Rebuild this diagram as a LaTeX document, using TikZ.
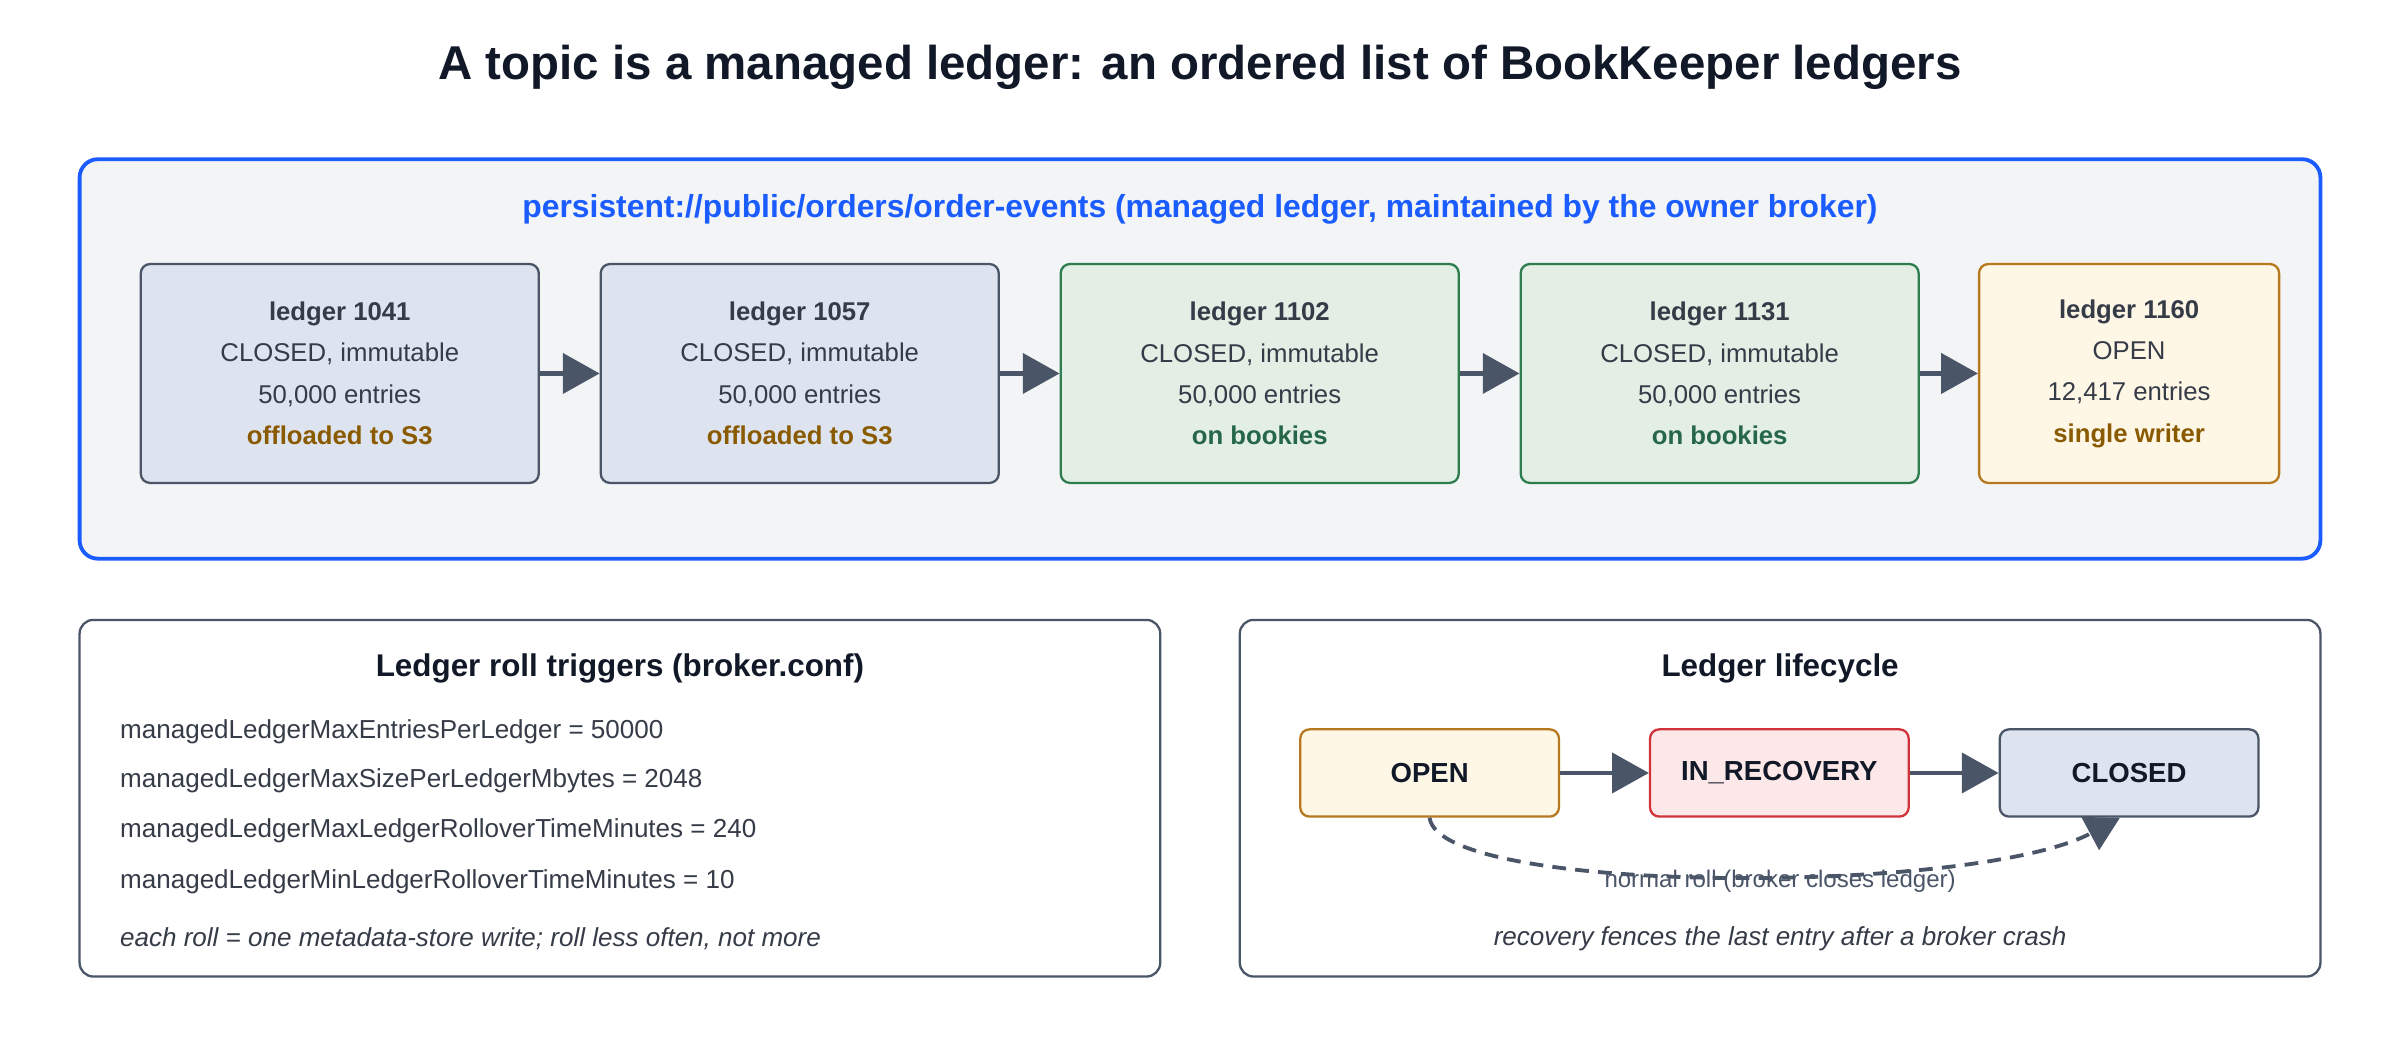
\documentclass[tikz,border=0pt]{standalone}
\usepackage{fontspec}
\setmainfont{Liberation Sans}
\usetikzlibrary{positioning, arrows.meta}

\definecolor{ink}{HTML}{111827}
\definecolor{slate}{HTML}{4A5568}
\definecolor{topicblue}{HTML}{1A5CFF}
\definecolor{panelbg}{HTML}{F3F4F6}
\definecolor{closedbg}{HTML}{DDE4EF}
\definecolor{bookiebg}{HTML}{E3EEE5}
\definecolor{bookieline}{HTML}{2E7D4F}
\definecolor{bookietext}{HTML}{276749}
\definecolor{openbg}{HTML}{FFF7E6}
\definecolor{openline}{HTML}{B7791F}
\definecolor{s3text}{HTML}{8A5A00}
\definecolor{recbg}{HTML}{FCE8E8}
\definecolor{recline}{HTML}{D0343A}

\begin{document}
\begin{tikzpicture}[
    x=1pt, y=-1pt,
    every node/.style={text=ink},
    panel/.style={draw=slate, line width=1.5pt, rounded corners=9pt, fill=white},
    ledger/.style={draw=slate, line width=1.5pt, rounded corners=6pt, fill=closedbg,
        minimum width=260pt, minimum height=143pt, align=center,
        font=\fontsize{16.8}{27}\selectfont, text=ink!85},
    bookie/.style={ledger, draw=bookieline, fill=bookiebg},
    openledger/.style={ledger, draw=openline, fill=openbg, minimum width=196pt},
    state/.style={draw=slate, line width=1.5pt, rounded corners=6pt, fill=closedbg,
        minimum width=169pt, minimum height=57pt, font=\fontsize{18}{20}\selectfont\bfseries},
    link/.style={draw=slate, line width=3pt, -{Triangle[length=24pt, width=26pt]}},
    confline/.style={anchor=west, font=\fontsize{17}{20}\selectfont, text=ink!85},
    heading/.style={font=\fontsize{20.5}{24}\selectfont\bfseries}
]
\useasboundingbox (0,0) rectangle (1568,679.5);

% Title
\node[font=\fontsize{31}{36}\selectfont\bfseries] (title) at (784,44)
    {A topic is a managed ledger: an ordered list of BookKeeper ledgers};

% Managed ledger panel
\draw[draw=topicblue, line width=2.5pt, fill=panelbg, rounded corners=12pt] (52,104) rectangle (1516,365);
\node[font=\fontsize{20.8}{24}\selectfont\bfseries, text=topicblue] (topic) at (784,137)
    {persistent://public/orders/order-events (managed ledger, maintained by the owner broker)};

\node[ledger] (l1041) at (222,244) {\textbf{ledger 1041}\\CLOSED, immutable\\50,000 entries\\\textcolor{s3text}{\textbf{offloaded to S3}}};
\node[ledger, right=39pt of l1041] (l1057) {\textbf{ledger 1057}\\CLOSED, immutable\\50,000 entries\\\textcolor{s3text}{\textbf{offloaded to S3}}};
\node[bookie, right=39pt of l1057] (l1102) {\textbf{ledger 1102}\\CLOSED, immutable\\50,000 entries\\\textcolor{bookietext}{\textbf{on bookies}}};
\node[bookie, right=39pt of l1102] (l1131) {\textbf{ledger 1131}\\CLOSED, immutable\\50,000 entries\\\textcolor{bookietext}{\textbf{on bookies}}};
\node[openledger, right=38pt of l1131] (l1160) {\textbf{ledger 1160}\\OPEN\\12,417 entries\\\textcolor{s3text}{\textbf{single writer}}};

\draw[link] (l1041) -- (l1057);
\draw[link] (l1057) -- (l1102);
\draw[link] (l1102) -- (l1131);
\draw[link] (l1131) -- (l1160);

% Roll triggers
\draw[panel] (52,405) rectangle (758,638);
\node[heading] (triggers) at (405,437) {Ledger roll triggers (broker.conf)};
\node[confline] (maxentries) at (75,478) {managedLedgerMaxEntriesPerLedger = 50000};
\node[confline] (maxsize) at (75,510) {managedLedgerMaxSizePerLedgerMbytes = 2048};
\node[confline] (maxtime) at (75,543) {managedLedgerMaxLedgerRolloverTimeMinutes = 240};
\node[confline] (mintime) at (75,576) {managedLedgerMinLedgerRolloverTimeMinutes = 10};
\node[confline, font=\fontsize{17}{20}\selectfont\itshape] (rollnote) at (75,613)
    {each roll = one metadata-store write; roll less often, not more};

% Lifecycle
\draw[panel] (810,405) rectangle (1516,638);
\node[heading] (lifecycle) at (1163,437) {Ledger lifecycle};
\node[state, draw=openline, fill=openbg] (sopen) at (934,505) {OPEN};
\node[state, draw=recline, fill=recbg, right=58pt of sopen] (srecovery) {IN\_RECOVERY};
\node[state, right=58pt of srecovery] (sclosed) {CLOSED};

\draw[link] (sopen) -- (srecovery);
\draw[link] (srecovery) -- (sclosed);
\draw[draw=slate, line width=2.5pt, dash pattern=on 9pt off 6pt, -{Triangle[length=22pt, width=24pt]}]
    (sopen.south) .. controls (940,585) and (1290,585) .. ([xshift=-6pt]sclosed.south);
\node[font=\fontsize{15.7}{18}\selectfont, text=slate] (rolllabel) at (1163,576) {normal roll (broker closes ledger)};
\node[font=\fontsize{17}{20}\selectfont\itshape, text=ink!85] (crashnote) at (1163,613)
    {recovery fences the last entry after a broker crash};
\end{tikzpicture}
\end{document}
